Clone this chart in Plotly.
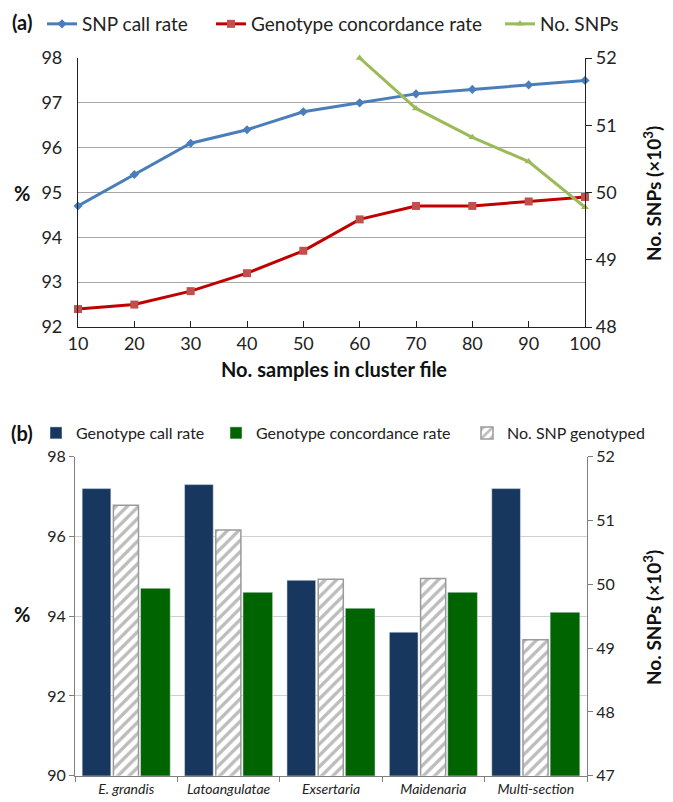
import plotly.graph_objects as go

# ---------------- data: panel (a) ----------------
samples = [10, 20, 30, 40, 50, 60, 70, 80, 90, 100]
snp_call_rate = [94.7, 95.4, 96.1, 96.4, 96.8, 97.0, 97.2, 97.3, 97.4, 97.5]
concordance_rate = [92.4, 92.5, 92.8, 93.2, 93.7, 94.4, 94.7, 94.7, 94.8, 94.9]
snps_samples = [60, 70, 80, 90, 100]
no_snps = [52.0, 51.25, 50.82, 50.46, 49.78]

# ---------------- data: panel (b) ----------------
sections = ["E. grandis", "Latoangulatae", "Exsertaria", "Maidenaria", "Multi-section"]
call_rate_b = [97.2, 97.3, 94.9, 93.6, 97.2]
concordance_b = [94.7, 94.6, 94.2, 94.6, 94.1]
snp_genotyped = [51.24, 50.85, 50.08, 50.09, 49.13]

W, H = 673, 802
FONT = "Lato"

def px_x(p):
    return p / W

def px_y(p):
    return 1 - p / H

fig = go.Figure()

# panel (a) lines
fig.add_trace(go.Scatter(
    x=samples, y=snp_call_rate, name="SNP call rate", mode="lines+markers",
    line=dict(color="#4A7EBB", width=3), marker=dict(symbol="diamond", size=7, color="#4A7EBB"),
    xaxis="x", yaxis="y", legend="legend", cliponaxis=False))
fig.add_trace(go.Scatter(
    x=samples, y=concordance_rate, name="Genotype concordance rate", mode="lines+markers",
    line=dict(color="#C00000", width=3), marker=dict(symbol="square", size=8, color="#C0504D"),
    xaxis="x", yaxis="y", legend="legend2", cliponaxis=False))
fig.add_trace(go.Scatter(
    x=snps_samples, y=no_snps, name="No. SNPs", mode="lines+markers",
    line=dict(color="#9BBB59", width=3), marker=dict(symbol="triangle-up", size=7, color="#9BBB59"),
    xaxis="x", yaxis="y2", legend="legend3", cliponaxis=False))

# panel (b) bars
fig.add_trace(go.Bar(
    x=sections, y=call_rate_b, name="Genotype call rate",
    marker=dict(color="#17375E"), offset=-0.43, width=0.28,
    xaxis="x2", yaxis="y3", legend="legend4"))
fig.add_trace(go.Bar(
    x=sections, y=concordance_b, name="Genotype concordance rate",
    marker=dict(color="#006400"), offset=0.14, width=0.29,
    xaxis="x2", yaxis="y3", legend="legend5"))
fig.add_trace(go.Bar(
    x=sections, y=snp_genotyped, name="No. SNP genotyped",
    marker=dict(color="white", line=dict(color="#9A9A9A", width=1.5),
                pattern=dict(shape="/", fgcolor="#7A7A7A", bgcolor="white", size=8, solidity=0.42)),
    offset=-0.125, width=0.245,
    xaxis="x2", yaxis="y4", legend="legend6"))

axis_font = dict(family=FONT, size=18, color="#222")
axis_font_b = dict(family=FONT, size=16, color="#222")

def leg(xpx, ypx, size):
    return dict(orientation="h", x=px_x(xpx), y=px_y(ypx), xanchor="left", yanchor="middle",
                font=dict(family=FONT, size=size, color="#222"), bgcolor="rgba(0,0,0,0)",
                itemwidth=30)

fig.update_layout(
    width=W, height=H, margin=dict(l=0, r=0, t=0, b=0, autoexpand=False),
    paper_bgcolor="white", plot_bgcolor="white",
    font=dict(family=FONT, color="#222"),
    barmode="overlay",
    xaxis=dict(domain=[px_x(78), px_x(585)], range=[10, 100], tickvals=samples,
               showline=True, linecolor="#222", linewidth=1.2, ticks="inside", ticklen=6,
               tickcolor="#222", showgrid=False, zeroline=False, tickfont=axis_font,
               anchor="y", automargin=False),
    yaxis=dict(domain=[px_y(327), px_y(58)], range=[92, 98], dtick=1,
               showline=True, linecolor="#222", linewidth=1.2, ticks="",
               showgrid=True, gridcolor="#A6A6A6", gridwidth=1, zeroline=False,
               tickfont=axis_font, ticklabelstandoff=11, anchor="x", automargin=False),
    yaxis2=dict(overlaying="y", side="right", range=[48, 52], dtick=1,
                showline=True, linecolor="#222", linewidth=1.2, ticks="outside", ticklen=6,
                tickcolor="#222", showgrid=False, zeroline=False, tickfont=axis_font,
                anchor="x", automargin=False),
    xaxis2=dict(domain=[px_x(75), px_x(587)], type="category", tickson="boundaries",
                showline=True, linecolor="#7F7F7F", linewidth=1.2, ticks="outside", ticklen=5,
                tickcolor="#7F7F7F", showgrid=False, zeroline=False,
                tickfont=dict(family=FONT, size=14, color="#222", style="italic"),
                anchor="y3", automargin=False),
    yaxis3=dict(domain=[px_y(775.7), px_y(456.7)], range=[90, 98], dtick=2,
                showline=True, linecolor="#7F7F7F", linewidth=1.2, ticks="outside", ticklen=5,
                tickcolor="#7F7F7F", showgrid=True, gridcolor="#D0D0D0", gridwidth=1,
                zeroline=False, tickfont=axis_font_b, anchor="x2", automargin=False),
    yaxis4=dict(overlaying="y3", side="right", range=[47, 52], dtick=1,
                showline=True, linecolor="#7F7F7F", linewidth=1.2, ticks="outside", ticklen=5,
                tickcolor="#7F7F7F", showgrid=False, zeroline=False, tickfont=axis_font_b,
                anchor="x2", automargin=False),
    legend=leg(42, 24, 19),
    legend2=leg(211, 24, 19),
    legend3=leg(500, 24, 19),
    legend4=leg(36, 433, 16),
    legend5=leg(216, 433, 16),
    legend6=leg(467, 433, 16),
    showlegend=True,
)

bold = dict(family=FONT, size=20, color="#111")
title_r = dict(family=FONT, size=19, color="#111")
annots = [
    dict(text="<b>(a)</b>", x=px_x(22), y=px_y(22), font=dict(family=FONT, size=20, color="#111")),
    dict(text="<b>(b)</b>", x=px_x(22), y=px_y(433), font=dict(family=FONT, size=20, color="#111")),
    dict(text="<b>%</b>", x=px_x(22), y=px_y(193), font=bold),
    dict(text="<b>%</b>", x=px_x(22), y=px_y(614), font=bold),
    dict(text="<b>No. SNPs (×10<sup>3</sup>)</b>", x=px_x(652), y=px_y(194), textangle=-90, font=title_r),
    dict(text="<b>No. SNPs (×10<sup>3</sup>)</b>", x=px_x(652), y=px_y(618), textangle=-90, font=title_r),
    dict(text="<b>No. samples in cluster file</b>", x=px_x(334), y=px_y(369), font=bold),
]
for a in annots:
    a.update(xref="paper", yref="paper", showarrow=False, xanchor="center", yanchor="middle")
fig.update_layout(annotations=annots)

fig.write_html("out.html", config={"displayModeBar": False},
               post_script="document.body.style.margin='0';")
